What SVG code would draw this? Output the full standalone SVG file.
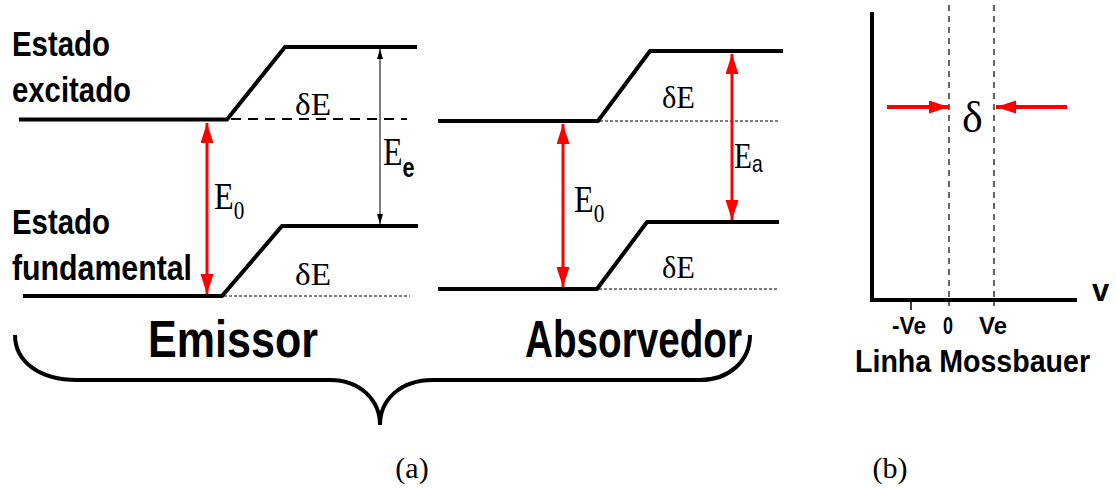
<svg xmlns="http://www.w3.org/2000/svg" width="1116" height="488" viewBox="0 0 1116 488">
<style>
.lvl{fill:none;stroke:#000;stroke-width:4;stroke-linejoin:miter}
.dash{fill:none;stroke:#000;stroke-width:2;stroke-dasharray:10 7}
.dot{fill:none;stroke:#000;stroke-width:1;stroke-dasharray:3 2}
.vdash{fill:none;stroke:#000;stroke-width:1.2;stroke-dasharray:6 5}
.red{fill:none;stroke:#f00;stroke-width:3}
.sans{font-family:"Liberation Sans",Arial,sans-serif;font-weight:bold;fill:#000}
.serif{font-family:"Liberation Serif","Times New Roman",serif;fill:#000}
</style>
<defs>
<marker id="rh" markerUnits="userSpaceOnUse" markerWidth="22" markerHeight="14" refX="20" refY="6.5" orient="auto-start-reverse" viewBox="0 0 22 14">
<path d="M0,0 L20,6.5 L0,13 Z" fill="#f00"/>
</marker>
<marker id="bh" markerUnits="userSpaceOnUse" markerWidth="11" markerHeight="7" refX="10" refY="3" orient="auto-start-reverse" viewBox="0 0 11 7">
<path d="M0,0 L10,3 L0,6 Z" fill="#000"/>
</marker>
</defs>

<g id="labels-left">
<text class="sans" x="12" y="56" font-size="35" textLength="98" lengthAdjust="spacingAndGlyphs">Estado</text>
<text class="sans" x="12" y="102" font-size="35" textLength="119" lengthAdjust="spacingAndGlyphs">excitado</text>
<text class="sans" x="12" y="234" font-size="35" textLength="98" lengthAdjust="spacingAndGlyphs">Estado</text>
<text class="sans" x="12" y="280" font-size="35" textLength="180" lengthAdjust="spacingAndGlyphs">fundamental</text>
</g>

<g id="emissor">
<path class="lvl" d="M19,119.5 L227,119.5 L285,47 L417,47"/>
<path class="lvl" d="M23,296 L222,296 L282,226 L418,226"/>
<path class="dash" d="M231,119 L407,119"/>
<path class="dot" d="M224,296 L410,296"/>
<text class="serif" x="295" y="115" font-size="31" textLength="36" lengthAdjust="spacingAndGlyphs">δE</text>
<text class="serif" x="295" y="285" font-size="31" textLength="36" lengthAdjust="spacingAndGlyphs">δE</text>
<text class="serif" font-size="38" transform="translate(214,209) scale(0.85,1)">E<tspan font-size="25" dy="10">0</tspan></text>
<text class="serif" font-size="40" transform="translate(383,165) scale(0.8,1)">E<tspan class="sans" font-size="27" dy="12">e</tspan></text>
<text class="sans" x="148" y="357" font-size="52" textLength="170" lengthAdjust="spacingAndGlyphs">Emissor</text>
</g>

<g id="absorvedor">
<path class="lvl" d="M438,121 L598,121 L650,51 L783,51"/>
<path class="lvl" d="M438,289 L597,289 L647,222 L779,222"/>
<path class="dot" d="M600,121 L778,121"/>
<path class="dot" d="M599,289 L778,289"/>
<text class="serif" x="662" y="108" font-size="31" textLength="33" lengthAdjust="spacingAndGlyphs">δE</text>
<text class="serif" x="662" y="278" font-size="31" textLength="33" lengthAdjust="spacingAndGlyphs">δE</text>
<text class="serif" font-size="38" transform="translate(574,212) scale(0.85,1)">E<tspan font-size="25" dy="10">0</tspan></text>
<text class="serif" font-size="35" transform="translate(734,168) scale(0.84,1)">E<tspan font-family="Liberation Sans, Arial, sans-serif" font-size="23" dy="4">a</tspan></text>
<text class="sans" x="525" y="357" font-size="52" textLength="217" lengthAdjust="spacingAndGlyphs">Absorvedor</text>
</g>

<g id="brace">
<path d="M15,335 C15,362 40,380 77,380 L330,380 C360,380 380,400 380,425 C380,400 400,380 433,380 L700,380 C728,380 750,362 750,335" fill="none" stroke="#000" stroke-width="4"/>
</g>

<g id="mossbauer">
<path class="vdash" d="M949,5 L949,306"/>
<path class="vdash" d="M994,5 L994,306"/>
<path d="M872,12 L872,300 L1077,300" fill="none" stroke="#000" stroke-width="4"/>
<path d="M911,300 L911,310" stroke="#000" stroke-width="1.5"/>
<text class="sans" x="1092" y="301" font-size="31">v</text>
<text class="sans" x="909" y="334" font-size="23" text-anchor="middle" textLength="34" lengthAdjust="spacingAndGlyphs">-Ve</text>
<text class="sans" x="948" y="334" font-size="23" text-anchor="middle" textLength="10" lengthAdjust="spacingAndGlyphs">0</text>
<text class="sans" x="993" y="334" font-size="23" text-anchor="middle" textLength="28" lengthAdjust="spacingAndGlyphs">Ve</text>
<text class="sans" x="855" y="372" font-size="31" textLength="235" lengthAdjust="spacingAndGlyphs">Linha Mossbauer</text>
<text class="serif" x="962" y="132" font-size="44">δ</text>
</g>

<g id="connectors">
<path class="red" d="M207,123 L207,294" marker-start="url(#rh)" marker-end="url(#rh)"/>
<path class="red" d="M563,124 L563,287" marker-start="url(#rh)" marker-end="url(#rh)"/>
<path class="red" d="M732,54 L732,220" marker-start="url(#rh)" marker-end="url(#rh)"/>
<path d="M380,49 L380,224" fill="none" stroke="#000" stroke-width="1" marker-start="url(#bh)" marker-end="url(#bh)"/>
<path d="M887,107 L949,107" fill="none" stroke="#f00" stroke-width="4" marker-end="url(#rh)"/>
<path d="M1067,107 L996,107" fill="none" stroke="#f00" stroke-width="4" marker-end="url(#rh)"/>
</g>

<g id="captions">
<text class="serif" x="412" y="478" font-size="30" text-anchor="middle">(a)</text>
<text class="serif" x="890" y="478" font-size="30" text-anchor="middle">(b)</text>
</g>
</svg>
